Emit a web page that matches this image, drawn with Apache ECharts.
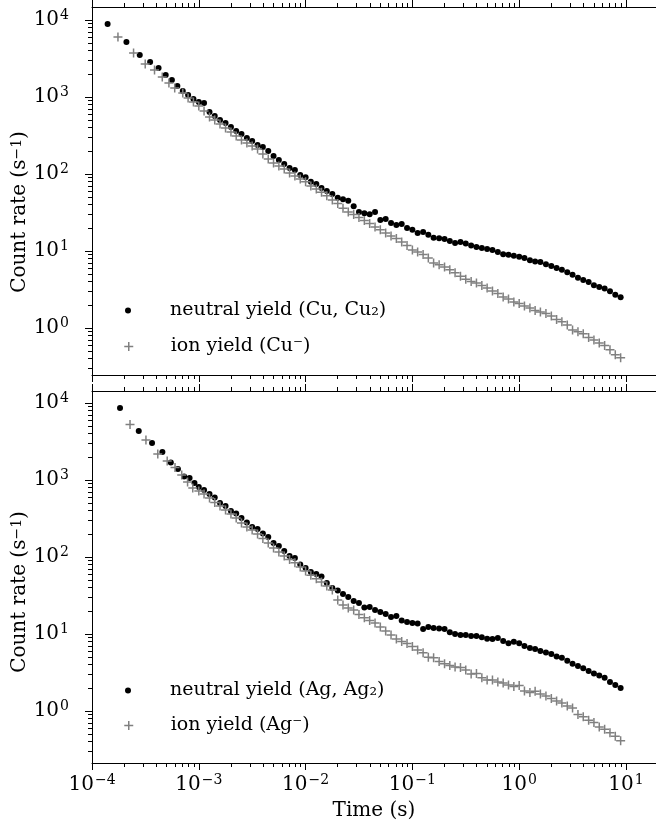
<!DOCTYPE html>
<html>
<head>
<meta charset="utf-8">
<script src="https://cdn.jsdelivr.net/npm/echarts@6/dist/echarts.min.js"></script>
<style>
    html, body { margin: 0; padding: 0; background: #fff; }
    #decay { width: 656px; height: 832px; }
</style>
</head>
<body>
<div id="decay"></div>
<script>
    // log-spaced time bins (s), shared by all series above ~7e-4 s
    const gridTimes = [
        7.08e-4, 7.94e-4, 8.91e-4, 1.00e-3,
        1.12e-3, 1.26e-3, 1.41e-3, 1.58e-3, 1.78e-3, 2.00e-3, 2.24e-3, 2.51e-3, 2.82e-3, 3.16e-3,
        3.55e-3, 3.98e-3, 4.47e-3, 5.01e-3, 5.62e-3, 6.31e-3, 7.08e-3, 7.94e-3, 8.91e-3, 1.00e-2,
        1.12e-2, 1.26e-2, 1.41e-2, 1.58e-2, 1.78e-2, 2.00e-2, 2.24e-2, 2.51e-2, 2.82e-2, 3.16e-2,
        3.55e-2, 3.98e-2, 4.47e-2, 5.01e-2, 5.62e-2, 6.31e-2, 7.08e-2, 7.94e-2, 8.91e-2, 1.00e-1,
        0.112, 0.126, 0.141, 0.158, 0.178, 0.200, 0.224, 0.251, 0.282, 0.316,
        0.355, 0.398, 0.447, 0.501, 0.562, 0.631, 0.708, 0.794, 0.891, 1.00,
        1.12, 1.26, 1.41, 1.58, 1.78, 2.00, 2.24, 2.51, 2.82, 3.16,
        3.55, 3.98, 4.47, 5.01, 5.62, 6.31, 7.08, 7.94, 8.91
    ];

    // early (linearly spaced) bins for each measurement
    const cuNeutralEarly = [1.4e-4, 2.1e-4, 2.8e-4, 3.5e-4, 4.2e-4, 4.9e-4, 5.6e-4, 6.3e-4];
    const cuIonEarly = [1.75e-4, 2.45e-4, 3.15e-4, 3.85e-4, 4.55e-4, 5.25e-4, 5.95e-4];
    const agNeutralEarly = [1.83e-4, 2.74e-4, 3.65e-4, 4.56e-4, 5.47e-4, 6.38e-4, 7.29e-4, 8.2e-4, 9.11e-4];
    const agIonEarly = [2.27e-4, 3.2e-4, 4.13e-4, 5.06e-4, 5.99e-4, 6.92e-4, 7.85e-4, 8.78e-4];

    // count rates (1/s)
    const cuNeutral = [
        8870, 5180, 3510, 2850, 2380, 1930, 1660, 1390,
        1200, 1060, 942, 861,
        836, 638, 566, 502, 459, 408, 361, 330, 294, 268, 238, 224, 199, 171, 152, 135, 120, 113, 97, 91,
        79, 74, 66, 60, 55, 49, 47, 45, 38, 32, 31, 30, 32, 25.3, 26, 23.1, 21.8, 22.4, 19.9, 18.8,
        17.1, 17.7, 16.2, 14.8, 14.6, 14.3, 13.5, 12.7, 13.1, 12.5, 11.8, 11.3, 10.9, 10.6, 10.3, 9.7, 9.1, 8.9, 8.7, 8.4,
        8.1, 7.6, 7.3, 7.2, 6.7, 6.4, 6.0, 5.7, 5.3, 4.9, 4.5, 4.2, 3.95, 3.6, 3.4, 3.26, 3.0, 2.7, 2.5
    ];
    const cuIon = [
        6010, 3720, 2680, 2240, 1820, 1520, 1310,
        1130, 970, 861, 764,
        658, 550, 502, 446, 395, 351, 312, 277, 253, 231, 211, 182, 157, 139, 127, 116, 103, 94, 86, 79,
        70, 64, 58, 52, 46, 41.4, 36, 32, 29.8, 27.2, 24.9, 22.8, 20.5, 18.8, 17.1, 15.7, 14.5, 13.1, 11.8, 10.3,
        9.7, 9.0, 8.1, 7.0, 6.6, 6.2, 5.7, 5.2, 4.7, 4.3, 4.0, 3.84, 3.56, 3.3, 3.03, 2.8, 2.53, 2.38, 2.18, 2.08,
        1.93, 1.82, 1.69, 1.61, 1.54, 1.43, 1.29, 1.2, 1.09, 0.94, 0.89, 0.84, 0.75, 0.70, 0.64, 0.59, 0.52, 0.45, 0.41
    ];
    const agNeutral = [
        8610, 4330, 3025, 2310, 1690, 1390, 1110, 1060, 914,
        811,
        741, 658, 593, 502, 459, 395, 367, 321, 281, 245, 231, 202, 182, 152, 139, 120, 103, 97, 80, 72,
        64, 60, 56, 46, 39.5, 36.7, 33, 30.3, 26.9, 25.3, 22.1, 22.4, 20.5, 19.3, 18.2, 16.6, 17.1, 15, 14.3, 13.9,
        13.7, 11.6, 12.3, 12.0, 11.8, 11.6, 10.5, 10, 9.7, 9.7, 9.4, 9.4, 9.1, 8.7, 8.6, 8.9, 8.1, 7.6, 7.9, 7.6,
        7.0, 6.6, 6.4, 6.0, 5.75, 5.5, 5.1, 4.9, 4.5, 4.1, 3.84, 3.6, 3.3, 3.07, 2.9, 2.7, 2.38, 2.18, 1.99
    ];
    const agIon = [
        5260, 3300, 2180, 1770, 1450, 1160, 942, 787,
        719,
        658, 583, 511, 459, 408, 361, 321, 277, 245, 224, 199, 174, 152, 131, 116, 103, 93, 84, 74, 66,
        58, 52, 47.3, 42, 37.2, 27.7, 23.8, 21.8, 20.5, 17.9, 16.2, 15, 13.9, 12.3, 10.9, 9.7, 8.6, 8.0, 7.5, 6.9,
        6.2, 5.7, 5.0, 4.9, 4.4, 4.1, 3.9, 3.72, 3.67, 3.4, 3.03, 3.07, 2.7, 2.53, 2.53, 2.38, 2.31, 2.18, 2.08, 2.14,
        1.82, 1.74, 1.8, 1.66, 1.57, 1.45, 1.35, 1.27, 1.16, 1.09, 0.90, 0.84, 0.76, 0.71, 0.62, 0.58, 0.52, 0.47, 0.41
    ];

    const names = {
        cuNeutral: 'neutral yield (Cu, Cu\u2082)',
        cuIon: 'ion yield (Cu\u207B)',
        agNeutral: 'neutral yield (Ag, Ag\u2082)',
        agIon: 'ion yield (Ag\u207B)'
    };

    // tick positions
    const xMajor = [1e-4, 1e-3, 1e-2, 1e-1, 1, 10];
    const yMajor = [1, 10, 100, 1000, 10000];
    function minorsOf(majors, lo, hi) {
        let out = [];
        majors.concat([majors[0] / 10]).forEach(function (m) {
            for (let k = 2; k <= 9; k++) {
                let v = m * k;
                if (v > lo && v < hi) out.push(v);
            }
        });
        return out;
    }

    const FONT = '"DejaVu Serif", "Liberation Serif", serif';
    const PLUS = 'path://M5,0L5,10M0,5L10,5';
    const X_RANGE = [1e-4, 19.1];
    const Y_RANGE_TOP = [0.245, 14750];
    const Y_RANGE_BOT = [0.211, 14330];

    const powRich = {
        b: { fontSize: 20, fontFamily: FONT, color: '#000', lineHeight: 24 },
        s: { fontSize: 14, fontFamily: FONT, color: '#000', verticalAlign: 'top', lineHeight: 14, padding: [0, 0, 0, 1] }
    };
    function powLabel(v) {
        let e = Math.round(Math.log10(v));
        return '{b|10}{s|' + (e < 0 ? '\u2212' + (-e) : e) + '}';
    }

    function pairs(ts, vs) {
        return ts.map(function (t, i) { return [t, vs[i]]; });
    }

    function xAxesFor(grid, withLabels) {
        let minor = minorsOf(xMajor, X_RANGE[0], X_RANGE[1]);
        let base = {
            type: 'log', gridIndex: grid, min: X_RANGE[0], max: X_RANGE[1],
            splitLine: { show: false }
        };
        let line = { show: true, onZero: false, lineStyle: { color: '#000', width: 1 } };
        return [
            Object.assign({}, base, {
                position: 'bottom',
                axisLine: line,
                axisTick: { customValues: xMajor, length: 7, lineStyle: { color: '#000', width: 1 } },
                axisLabel: withLabels ? {
                    customValues: xMajor, margin: 10, formatter: powLabel, rich: powRich
                } : { show: false },
                name: withLabels ? 'Time (s)' : '',
                nameLocation: 'middle',
                nameGap: 38,
                nameTextStyle: { fontSize: 20, fontFamily: FONT, color: '#000' }
            }),
            Object.assign({}, base, {
                position: 'top',
                axisLine: line,
                axisTick: { customValues: xMajor, length: 7, lineStyle: { color: '#000', width: 1 } },
                axisLabel: { show: false }
            }),
            Object.assign({}, base, {
                position: 'bottom',
                axisLine: { show: false },
                axisTick: { customValues: minor, length: 4, lineStyle: { color: '#000', width: 1 } },
                axisLabel: { show: false }
            }),
            Object.assign({}, base, {
                position: 'top',
                axisLine: { show: false },
                axisTick: { customValues: minor, length: 4, lineStyle: { color: '#000', width: 1 } },
                axisLabel: { show: false }
            })
        ];
    }

    function yAxesFor(grid, range) {
        let base = {
            type: 'log', gridIndex: grid, min: range[0], max: range[1],
            position: 'left', splitLine: { show: false }
        };
        return [
            Object.assign({}, base, {
                axisLine: { show: true, onZero: false, lineStyle: { color: '#000', width: 1 } },
                axisTick: { customValues: yMajor, length: 7, lineStyle: { color: '#000', width: 1 } },
                axisLabel: { customValues: yMajor, margin: 23, formatter: powLabel, rich: powRich }
            }),
            Object.assign({}, base, {
                axisLine: { show: false },
                axisTick: { customValues: minorsOf(yMajor, range[0], range[1]), length: 4, lineStyle: { color: '#000', width: 1 } },
                axisLabel: { show: false }
            })
        ];
    }

    function dotSeries(name, data, xi, yi) {
        return {
            name: name, type: 'scatter', xAxisIndex: xi, yAxisIndex: yi,
            symbol: 'circle', symbolSize: 6, silent: true,
            itemStyle: { color: '#000', opacity: 1 },
            data: data
        };
    }
    function plusSeries(name, data, xi, yi) {
        return {
            name: name, type: 'scatter', xAxisIndex: xi, yAxisIndex: yi,
            symbol: PLUS, symbolSize: 9, silent: true,
            itemStyle: { color: 'transparent', borderColor: '#808080', borderWidth: 1.5, opacity: 1 },
            data: data
        };
    }

    // one legend per entry so each icon keeps its own size
    function legendAt(name, top, size, isPlus) {
        let left = 128 - size / 2;
        let lg = {
            data: [name], orient: 'vertical', left: left, top: top, padding: 0,
            itemWidth: size, itemHeight: size, selectedMode: false,
            textStyle: {
                fontSize: 19, fontFamily: FONT, color: '#000',
                padding: [0, 0, 0, 170 - (left + size + 5)]
            }
        };
        if (isPlus) lg.itemStyle = { borderWidth: 1.5 };
        return lg;
    }

    const yName = {
        text: 'Count rate (s{s|\u22121})', fontSize: 20, fontFamily: FONT, fill: '#000',
        align: 'center', verticalAlign: 'middle',
        rich: { s: { fontSize: 14, fontFamily: FONT, verticalAlign: 'top' } }
    };

    let option = {
        animation: false,
        backgroundColor: '#fff',
        grid: [
            { left: 92, top: 7, right: 0, height: 368 },
            { left: 92, top: 391, right: 0, height: 372 }
        ],
        xAxis: xAxesFor(0, false).concat(xAxesFor(1, true)),
        yAxis: yAxesFor(0, Y_RANGE_TOP).concat(yAxesFor(1, Y_RANGE_BOT)),
        legend: [
            legendAt(names.cuNeutral, 301, 6, false),
            legendAt(names.cuIon, 337, 9, true),
            legendAt(names.agNeutral, 681, 6, false),
            legendAt(names.agIon, 716, 9, true)
        ],
        graphic: [
            { type: 'text', x: 20, y: 212, rotation: Math.PI / 2, style: yName },
            { type: 'text', x: 20, y: 592, rotation: Math.PI / 2, style: yName }
        ],
        series: [
            dotSeries(names.cuNeutral, pairs(cuNeutralEarly.concat(gridTimes), cuNeutral), 0, 0),
            plusSeries(names.cuIon, pairs(cuIonEarly.concat(gridTimes), cuIon), 0, 0),
            dotSeries(names.agNeutral, pairs(agNeutralEarly.concat(gridTimes.slice(3)), agNeutral), 4, 2),
            plusSeries(names.agIon, pairs(agIonEarly.concat(gridTimes.slice(3)), agIon), 4, 2)
        ]
    };

    let myChart = echarts.init(document.getElementById('decay'));
    myChart.setOption(option);
    window.addEventListener('resize', myChart.resize);
</script>
</body>
</html>
